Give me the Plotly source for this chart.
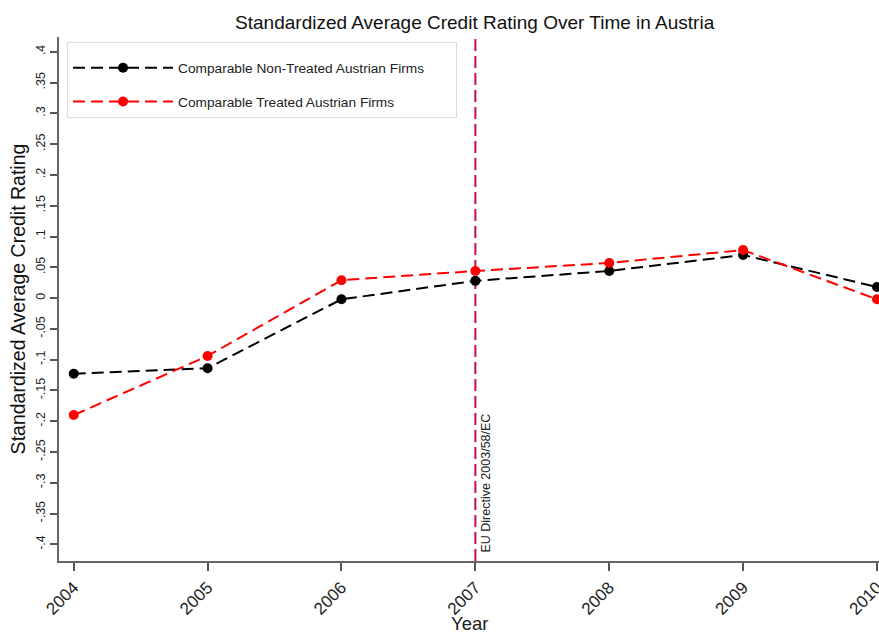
import plotly.graph_objects as go

years = [2004, 2005, 2006, 2007, 2008, 2009, 2010]
non_treated = [-0.123, -0.114, -0.002, 0.028, 0.044, 0.070, 0.018]
treated = [-0.190, -0.094, 0.029, 0.044, 0.057, 0.078, -0.002]
ytick_vals = [0.4, 0.35, 0.3, 0.25, 0.2, 0.15, 0.1, 0.05, 0, -0.05, -0.1, -0.15, -0.2, -0.25, -0.3, -0.35, -0.4]
ytick_text = [".4", ".35", ".3", ".25", ".2", ".15", ".1", ".05", "0", "-.05", "-.1", "-.15", "-.2", "-.25", "-.3", "-.35", "-.4"]
event_year = 2007
event_label = "EU Directive 2003/58/EC"

FONT = "Liberation Sans, Arial, sans-serif"

fig = go.Figure()
fig.add_trace(go.Scatter(
    x=years, y=non_treated, mode="lines+markers",
    name="Comparable Non-Treated Austrian Firms" + "&nbsp;" * 7, legendgroup="a",
    line=dict(color="black", width=2, dash="12px,6px"),
    marker=dict(color="black", size=10),
))
fig.add_trace(go.Scatter(
    x=years, y=treated, mode="lines+markers",
    name="Comparable Treated Austrian Firms", legendgroup="b",
    line=dict(color="#FF0000", width=2, dash="12px,6px"),
    marker=dict(color="#FF0000", size=10),
))

fig.add_shape(type="line", xref="x", yref="paper", x0=event_year, x1=event_year, y0=0, y1=1,
              line=dict(color="#C8103C", width=2, dash="12px,5px"), layer="below")
fig.add_annotation(x=event_year, xref="x", y=0.012, yref="paper", text=event_label,
                   textangle=-90, showarrow=False, xanchor="left", yanchor="bottom", xshift=2,
                   font=dict(family=FONT, size=12.5, color="#222"))
fig.add_annotation(x=0.5, xref="paper", y=-0.119, yref="paper", yanchor="middle",
                   text="Year", showarrow=False,
                   font=dict(family=FONT, size=18.5, color="#222"))

fig.update_layout(
    width=879, height=635,
    margin=dict(l=59, r=0, t=37, b=74, autoexpand=False),
    plot_bgcolor="white", paper_bgcolor="white",
    font=dict(family=FONT, color="#222"),
    title=dict(text="Standardized Average Credit Rating Over Time in Austria",
               x=0.54, xanchor="center", xref="container",
               y=0.965, yref="container", yanchor="middle", automargin=False,
               font=dict(family=FONT, size=19, color="#111")),
    showlegend=True,
    legend=dict(x=0.0098, y=0.99, xanchor="left", yanchor="top",
                bordercolor="#dddddd", borderwidth=1, bgcolor="white",
                font=dict(family=FONT, size=13.7, color="#222"),
                title=dict(text=" ", font=dict(size=7)),
                itemwidth=100, tracegroupgap=13),
    xaxis=dict(range=[2003.89, 2010.015], tickvals=years, ticktext=[str(y) for y in years],
               tickangle=-45, tickfont=dict(family=FONT, size=17, color="#222"),
               ticklabeloverflow="allow",
               ticks="outside", ticklen=8, tickwidth=1.5, tickcolor="#555", automargin=False,
               showline=True, linecolor="#666", linewidth=2, showgrid=False, zeroline=False),
    yaxis=dict(range=[-0.427, 0.424], tickvals=ytick_vals, ticktext=ytick_text,
               tickangle=-90, tickfont=dict(family=FONT, size=12.5, color="#222"),
               ticklabeloverflow="allow",
               ticks="outside", ticklen=7, tickwidth=1.5, tickcolor="#555", automargin=False,
               showline=True, linecolor="#666", linewidth=2, showgrid=False, zeroline=False,
               title=dict(text="Standardized Average Credit Rating",
                          font=dict(family=FONT, size=19.5, color="#111"), standoff=3)),
)

fig.write_html("out.html", config={"displayModeBar": False},
               post_script="document.body.style.margin='0';")
